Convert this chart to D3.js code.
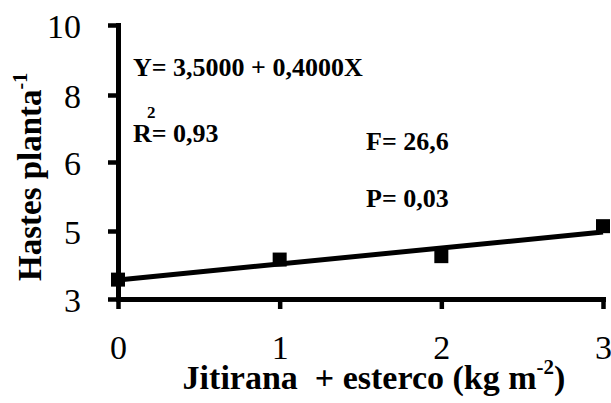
<!DOCTYPE html>
<html><head><meta charset="utf-8">
<script src="https://cdn.jsdelivr.net/npm/d3@7"></script>
<style>
body{margin:0;background:#fff}
svg{display:block}
</style>
</head><body>
<script>
// Data
const doses = [0, 1, 2, 3];                 // Jitirana + esterco (kg m-2)
const hastes = [3.57, 4.16, 4.26, 5.07];    // Hastes planta-1 (observed)
const fitX = [0, 3];                        // fitted line end points
const fitY = [3.56, 4.97];
const yTicks = [3, 5, 6, 8, 10];
const xTicks = [0, 1, 2, 3];
const annotations = ["Y= 3,5000 + 0,4000X", "R= 0,93", "F= 26,6", "P= 0,03"];

const FONT = '"Liberation Serif", "Times New Roman", serif';
const W = 611, H = 403;
const svg = d3.select("body").append("svg").attr("width", W).attr("height", H);

const x = d3.scaleLinear().domain([0, 3]).range([118, 603]);
// The original axis places its (unevenly valued) tick labels at even spacing
const y = d3.scaleLinear().domain(yTicks).range([299, 231, 162, 95, 25]);

function styleAxis(g) {
  g.select(".domain").attr("stroke", "#000").attr("stroke-width", 5).attr("stroke-linecap", "square");
  g.selectAll(".tick line").attr("stroke", "#000").attr("stroke-width", 4.5);
  g.selectAll(".tick text").style("font-family", FONT).attr("font-size", 34).attr("fill", "#000");
}

const gx = svg.append("g").attr("transform", "translate(0,299)")
  .call(d3.axisBottom(x).tickValues(xTicks).tickSize(10).tickSizeOuter(0).tickPadding(26).tickFormat(d3.format("d")));
styleAxis(gx);

const gy = svg.append("g").attr("transform", "translate(118,0)")
  .call(d3.axisLeft(y).tickValues(yTicks).tickSize(10).tickSizeOuter(0).tickPadding(27).tickFormat(d3.format("d")));
styleAxis(gy);
gy.selectAll(".tick text").attr("dy", "0.36em");

// fitted line
const line = d3.line().x(d => x(d[0])).y(d => y(d[1]));
svg.append("path").datum(fitX.map((v, i) => [v, fitY[i]]))
  .attr("d", line).attr("fill", "none").attr("stroke", "#000").attr("stroke-width", 5);

// observed points
const ms = 14;
svg.selectAll("rect.pt").data(doses).join("rect").attr("class", "pt")
  .attr("x", d => x(d) - ms / 2).attr("y", (d, i) => y(hastes[i]) - ms / 2)
  .attr("width", ms).attr("height", ms).attr("fill", "#000");

// annotations
const ann = svg.append("g").attr("font-weight", "bold").attr("font-size", 26);
function t(parent) { return parent.append("text").style("font-family", FONT).attr("fill", "#000"); }
t(ann).attr("x", 133).attr("y", 76).text(annotations[0]);
t(ann).attr("x", 133).attr("y", 142).text(annotations[1]);
t(ann).attr("x", 147).attr("y", 118).attr("font-size", 17).text("2");
t(ann).attr("x", 366).attr("y", 150).text(annotations[2]);
t(ann).attr("x", 366).attr("y", 207).text(annotations[3]);

// x title
const xt = t(svg).attr("x", 374).attr("y", 389).attr("text-anchor", "middle")
  .attr("font-weight", "bold").attr("font-size", 34).style("white-space", "pre");
xt.append("tspan").text("Jitirana  + esterco (kg m");
xt.append("tspan").attr("font-size", 21).attr("dy", -15).text("-2");
xt.append("tspan").attr("dy", 15).text(")");

// y title
const yt = t(svg).attr("transform", "translate(41,281) rotate(-90)")
  .attr("font-weight", "bold").attr("font-size", 33);
yt.append("tspan").text("Hastes planta");
yt.append("tspan").attr("font-size", 20).attr("dy", -14).text("-1");
</script>
</body></html>
